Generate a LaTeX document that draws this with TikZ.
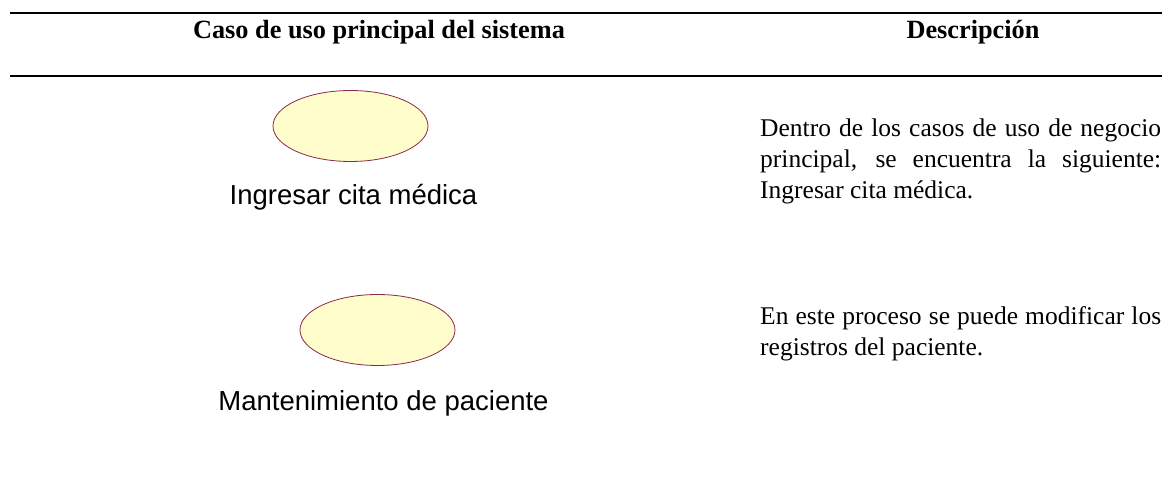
\documentclass[tikz,border=0pt]{standalone}
\usepackage{fontspec}
\setmainfont{Liberation Serif}
\newfontfamily\arialfont{Liberation Sans}
\usetikzlibrary{shapes.geometric}
\hyphenpenalty=10000
\exhyphenpenalty=10000
\tolerance=10000
\hbadness=10000
\definecolor{ucin}{HTML}{FFFDCC}
\definecolor{ucmid}{HTML}{EDEAB4}
\definecolor{ucout}{HTML}{B8B48C}
\definecolor{ucborder}{HTML}{8A2846}
\pgfdeclareradialshading{ucshade}{\pgfpoint{0bp}{0bp}}{color(0bp)=(ucin); color(28bp)=(ucin); color(42bp)=(ucmid); color(50bp)=(ucout)}
\tikzset{
  rulestyle/.style={line width=1.6bp, black},
  uc/.style={ellipse, draw=ucborder, line width=0.8bp, shading=ucshade,
    minimum width=155bp, minimum height=71bp, inner sep=0pt},
  uclabel/.style={font=\arialfont\fontsize{27.5bp}{33bp}\selectfont, inner sep=0pt, anchor=base},
  hdr/.style={font=\bfseries\fontsize{26.3bp}{30bp}\selectfont, inner sep=0pt, anchor=base},
  desc/.style={font=\fontsize{25.5bp}{31bp}\selectfont, text width=401bp, align=justify,
    inner sep=0pt, anchor=base west}
}
\begin{document}
\begin{tikzpicture}[x=1bp, y=-1bp]
\useasboundingbox (0,0) rectangle (1162,483);
\fill[white] (0,0) rectangle (1162,483);
\coordinate (r1a) at (10,13);
\coordinate (r1b) at (1162,13);
\coordinate (r2a) at (10,76);
\coordinate (r2b) at (1162,76);
\draw[rulestyle] (r1a) -- (r1b);
\draw[rulestyle] (r2a) -- (r2b);
\node[hdr] (h1) at (379,39) {Caso de uso principal del sistema};
\node[hdr] (h2) at (973,39) {Descripción};
\node[uc] (uc1) at (350.5,126) {};
\node[uclabel] (l1) at (353.5,205) {Ingresar cita médica};
\node[uc] (uc2) at (377.5,330) {};
\node[uclabel] (l2) at (383.5,410) {Mantenimiento de paciente};
\node[desc] (d1) at (760,137) {Dentro de los casos de uso de negocio principal, se encuentra la siguiente: Ingresar cita médica.};
\node[desc] (d2) at (760,325) {En este proceso se puede modificar los registros del paciente.};
\end{tikzpicture}
\end{document}
